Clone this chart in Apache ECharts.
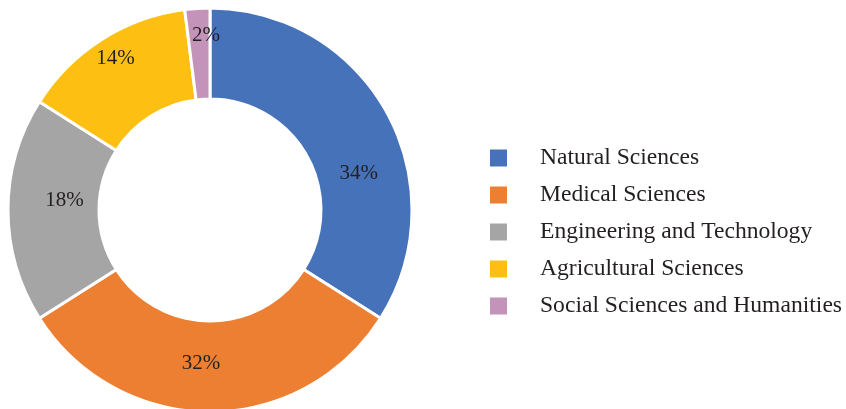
<!DOCTYPE html>
<html>
<head>
<meta charset="utf-8">
<script src="https://cdn.jsdelivr.net/npm/echarts@6/dist/echarts.min.js"></script>
<style>
  html, body { margin: 0; padding: 0; background: #ffffff; }
  #pie_echarts { width: 846px; height: 409px; }
</style>
</head>
<body>
<div id="pie_echarts"></div>
<script>
var categories = ['Natural Sciences', 'Medical Sciences', 'Engineering and Technology', 'Agricultural Sciences', 'Social Sciences and Humanities'];
var shares = [34, 32, 18, 14, 2];
var colors = ['#4672b9', '#ed7f32', '#a5a5a5', '#fdc012', '#c393b9'];
// small nudges so labels sit where the original put them
var labelNudge = [[9, 40], [-9, -6], [14, -10], [-9, -17], [6, -15]];

document.addEventListener('DOMContentLoaded', function () {
    var chartDom = document.getElementById('pie_echarts');
    var myChart = echarts.init(chartDom);
    var option;

    var data = categories.map(function (name, i) {
        return { value: shares[i], name: name, itemStyle: { color: colors[i] } };
    });

    option = {
        backgroundColor: '#ffffff',
        animation: false,
        legend: {
            orient: 'vertical',
            left: 490,
            top: 146,
            padding: 0,
            itemWidth: 17,
            itemHeight: 17,
            itemGap: 13,
            icon: 'rect',
            itemStyle: { borderWidth: 0 },
            data: categories,
            textStyle: {
                fontFamily: 'Liberation Serif',
                fontSize: 23.6,
                lineHeight: 24,
                color: '#231f20',
                padding: [0, 0, 0, 28]
            }
        },
        series: [
            {
                name: 'Share',
                type: 'pie',
                center: [210, 210],
                radius: [111, 202],
                startAngle: 90,
                clockwise: true,
                itemStyle: {
                    borderColor: '#ffffff',
                    borderWidth: 3
                },
                label: {
                    position: 'inside',
                    formatter: '{c}%',
                    fontFamily: 'Liberation Serif',
                    fontSize: 21,
                    color: '#231f20'
                },
                labelLayout: function (params) {
                    var n = labelNudge[params.dataIndex];
                    return { dx: n[0], dy: n[1] };
                },
                labelLine: { show: false },
                emphasis: { disabled: true },
                data: data
            }
        ]
    };

    option && myChart.setOption(option);
});
</script>
</body>
</html>
